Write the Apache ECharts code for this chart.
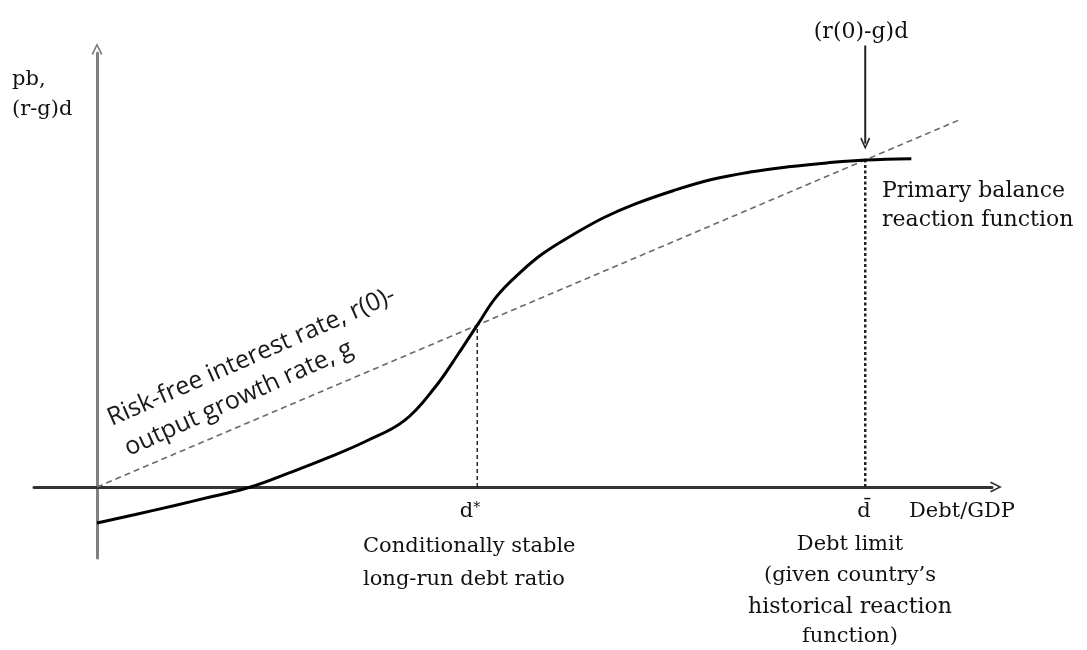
<!DOCTYPE html>
<html>
<head>
<meta charset="utf-8">
<script src="https://cdn.jsdelivr.net/npm/echarts@6/dist/echarts.min.js"></script>
<style>html,body{margin:0;padding:0;background:#fff}#c{width:1087px;height:650px}</style>
</head>
<body>
<div id="c"></div>
<script>
// ---- data (conceptual diagram values) ----
const reactionX = [0, 5, 10, 15, 20, 25, 30, 35, 40, 44, 47, 49.5, 52, 55, 58, 62, 66, 70, 75, 80, 85, 90, 95, 100, 106];
const reactionY = [-11, -8.4, -5.7, -2.9, 0, 4.3, 8.9, 14.0, 20.3, 30.5, 40.6, 49.5, 58.2, 65.4, 71.3, 77.2, 82.4, 86.5, 90.6, 94.0, 96.3, 97.9, 99.1, 100, 100.4];
const rgLineX = [0, 112.5];
const rgLineY = [0, 112.5];
const dStar = 49.5;        // conditionally stable debt ratio
const dStarValue = 49.5;   // pb at d*
const dBar = 100;          // debt limit
const dBarValue = 100;     // pb at d-bar
const arrowFrom = 135;
const arrowTo = 105;
const xRange = [-8.2, 116.5];
const yRange = [-21.7, 132.7];

const zip = (a, b) => a.map((v, i) => [v, b[i]]);
const chevUp = 'path://M0,10 L5,0 L10,10 L8.6,10.8 L5,3.2 L1.4,10.8 Z';
const serif = '"DejaVu Serif", "Liberation Serif", serif';
const sans = '"Open Sans", Lato, sans-serif';
const txtColor = '#111';

const chart = echarts.init(document.getElementById('c'), null, {renderer: 'canvas'});

function t(text, x, y, align, size) {
  return {
    type: 'text', x: x, y: y, silent: true,
    style: {text: text, fill: txtColor, font: (size || 21) + 'px ' + serif, align: align || 'left', verticalAlign: 'middle'}
  };
}

const option = {
  animation: false,
  backgroundColor: '#fff',
  grid: {left: 34, right: 95, top: 53, bottom: 92, containLabel: false},
  xAxis: {
    type: 'value', min: xRange[0], max: xRange[1],
    axisLine: {onZero: true, symbol: ['none', chevUp], symbolSize: [11, 12], symbolOffset: [0, 4], lineStyle: {color: '#333', width: 3}},
    axisTick: {show: false}, axisLabel: {show: false}, splitLine: {show: false}
  },
  yAxis: {
    type: 'value', min: yRange[0], max: yRange[1],
    axisLine: {onZero: true, symbol: ['none', chevUp], symbolSize: [11, 12], symbolOffset: [0, 4], lineStyle: {color: '#808080', width: 3}},
    axisTick: {show: false}, axisLabel: {show: false}, splitLine: {show: false}
  },
  series: [
    {
      name: 'rg', type: 'line', data: zip(rgLineX, rgLineY), showSymbol: false, silent: true,
      lineStyle: {color: '#6a6a6a', width: 1.6, type: [6, 4]}, z: 2
    },
    {
      name: 'dstar', type: 'line', data: [[dStar, 0], [dStar, dStarValue]], showSymbol: false, silent: true,
      lineStyle: {color: '#222', width: 1.5, type: [4, 3]}, z: 2
    },
    {
      name: 'dbar', type: 'line', data: [[dBar, 0], [dBar, dBarValue]], showSymbol: false, silent: true,
      lineStyle: {color: '#222', width: 2.5, type: [3, 2.5]}, z: 2
    },
    {
      name: 'arrow', type: 'line', clip: false, silent: true, z: 4,
      showSymbol: true, showAllSymbol: true,
      data: [
        {value: [dBar, arrowFrom], symbol: 'none'},
        {value: [dBar, arrowTo], symbol: chevUp, symbolRotate: 180, symbolSize: [10, 12]}
      ],
      itemStyle: {color: '#222'},
      lineStyle: {color: '#222', width: 2}
    },
    {
      name: 'reaction', type: 'line', data: zip(reactionX, reactionY), smooth: 0.4, showSymbol: false, silent: true,
      lineStyle: {color: '#000', width: 3}, z: 3
    }
  ],
  graphic: [
    t('pb,', 12, 80),
    t('(r-g)d', 12, 110),
    t('(r(0)-g)d', 861, 32, 'center', 22),
    t('Primary balance', 882, 191, 'left', 22),
    t('reaction function', 882, 220, 'left', 22),
    {
      type: 'text', x: 470, y: 512, silent: true,
      style: {
        text: '{a|d}{b|*}', align: 'center', verticalAlign: 'middle',
        rich: {a: {font: '21px ' + serif, fill: txtColor}, b: {font: '14px ' + serif, fill: txtColor, verticalAlign: 'top', padding: [0, 0, 8, 0]}}
      }
    },
    t('Conditionally stable', 363, 547),
    t('long-run debt ratio', 363, 580),
    t('d\u0304', 864, 512, 'center'),
    t('Debt/GDP', 962, 512, 'center'),
    t('Debt limit', 850, 545, 'center'),
    t('(given country\u2019s', 850, 576, 'center'),
    t('historical reaction', 850, 607, 'center', 22),
    t('function)', 850, 637, 'center'),
    {
      type: 'text', x: 114, y: 431, rotation: 0.415, silent: true,
      style: {text: 'Risk-free interest rate, r(0)-', fill: '#1a1a1a', font: '25px ' + sans, align: 'left', verticalAlign: 'bottom'}
    },
    {
      type: 'text', x: 131, y: 461, rotation: 0.425, silent: true,
      style: {text: 'output growth rate, g', fill: '#1a1a1a', font: '25px ' + sans, align: 'left', verticalAlign: 'bottom'}
    }
  ]
};
chart.setOption(option);
</script>
</body>
</html>
